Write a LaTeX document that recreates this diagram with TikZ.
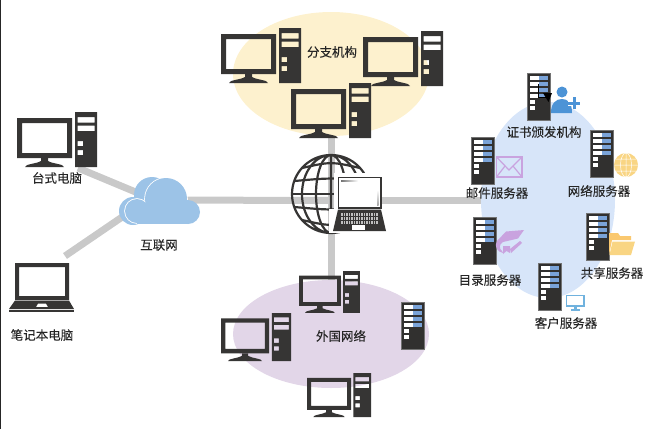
\documentclass[tikz,border=0pt]{standalone}
\usepackage{fontspec}
\setmainfont{Noto Sans CJK SC}[FakeBold=0.15]
\definecolor{darkbox}{HTML}{363534}
\definecolor{wirecol}{HTML}{C9C9C9}
\definecolor{cloudcol}{HTML}{9CC3E7}
\definecolor{slotcol}{HTML}{7AA3D8}
\definecolor{branchcol}{HTML}{FDF1CE}
\definecolor{foreigncol}{HTML}{E2D6E8}
\definecolor{servercol}{HTML}{D7E5F9}
\definecolor{usercol}{HTML}{4C93D6}
\definecolor{mailcol}{HTML}{C9A3DF}
\definecolor{foldcol}{HTML}{F9D583}
\definecolor{screencol}{HTML}{70B2DE}
\tikzset{
  wire/.style={wirecol,line width=7pt},
  lbl/.style={font=\fontsize{12.5}{14}\selectfont,inner sep=0pt,text=black!85},
  pics/desktop/.style={code={
    \fill[darkbox,even odd rule] (0,6) rectangle (55,46) (5,11) rectangle (50,41);
    \fill[darkbox] (24,46) -- (31,46) -- (31,49) .. controls (36,52) and (47,52) .. (47,55) -- (8,55) .. controls (8,52) and (19,52) .. (24,49) -- cycle;
    \fill[darkbox,even odd rule] (58,0) rectangle (80,55)
      (60.5,5) rectangle (77.5,10.5) (60.5,13.5) rectangle (77.5,19)
      (60.5,29) rectangle (66,34) (60.5,38) rectangle (66,43);
  }},
  pics/rackbox/.style={code={
    \fill[darkbox!90!black,draw=black!55,line width=.6pt] (0,0) rectangle (23.5,47);
    \foreach \r in {5,11,17,23} {
      \fill[white] (3,\r-1.6) rectangle (12,\r+1.6);
      \fill[slotcol] (12,\r-1.6) rectangle (20.5,\r+1.6);
    }
    \foreach \r in {29,35} {
      \fill[white] (3,\r-1.6) rectangle (8,\r+1.6);
    }
  }},
}
\begin{document}
\begin{tikzpicture}[x=1pt,y=-1pt]
\useasboundingbox (0,0) rectangle (650,429);
\draw [black!85,line width=1.5pt] (0.5,0) -- (0.5,429);
% wiring points
\coordinate (pcend) at (78,168);
\coordinate (noteend) at (65,256);
\coordinate (cloud) at (160,200);
\coordinate (cloudin) at (150,198);
\coordinate (hub) at (331,200.5);
\coordinate (branch) at (331,74);
\coordinate (foreign) at (331,334);
\coordinate (servers) at (548,200.5);
\draw [wire] (pcend) -- (cloudin);
\draw [wire] (noteend) -- (cloudin);
\draw [wire] (cloud) -- (hub);
\draw [wire] (hub) -- (servers);
\draw [wire] (hub) -- (branch);
\draw [wire] (hub) -- (foreign);
% network areas
\fill [branchcol] (branch) ellipse (98 and 62);
\fill [foreigncol] (foreign) ellipse (98 and 54);
\fill [servercol] (548,200) ellipse (67 and 98);
% cloud
\fill [cloudcol] (133,211) circle (14);
\fill [cloudcol] (152,195) circle (18);
\fill [cloudcol] (133,210) rectangle (160,224);
\draw [white,line width=1.6pt] (166,199) circle (21);
\draw [white,line width=1.6pt] (137,211) circle (12);
\fill [cloudcol] (166,199) circle (21);
\fill [cloudcol] (137,211) circle (12);
\fill [cloudcol] (188,212) circle (12);
\fill [cloudcol] (137,208) rectangle (188,223.5);
% globe
\draw [darkbox,line width=2.2pt] (331,194) circle (39) (331,194) ellipse (15 and 39) (331,194) ellipse (29 and 39) (331,155) -- (331,233);
\foreach \d in {-26,-13,0,13,26} {
  \pgfmathsetmacro{\w}{sqrt(39*39-\d*\d)}
  \draw [darkbox,line width=2.2pt] (331-\w,194+\d) .. controls (331,194+\d*1.25) .. (331+\w,194+\d);
}
% laptop over the globe
\fill [white] (334,173) rectangle (386,209);
\fill [white] (329,209) rectangle (390,233);
\fill [wirecol] (382,197) rectangle (390,204);
\draw [darkbox,fill=white,line width=1.1pt] (338.5,177.5) rectangle (381,208);
\shade [left color=black!55,right color=white] (341,180) rectangle (358,181.5);
\shade [top color=white,bottom color=black!35] (377,190) rectangle (378.5,205);
\fill [darkbox] (338,209.5) -- (381,209.5) -- (386,231) -- (333,231) -- cycle;
\fill [black!25] (341,213) rectangle (378,224);
\foreach \k in {343,345.5,...,378} {
  \draw [darkbox,line width=.5pt] (\k,213) -- (\k,224);
}
\draw [darkbox,line width=.5pt] (341,216.5) -- (378,216.5) (341,220) -- (378,220);
\fill [white] (352,225) rectangle (365,230);
% notebook
\fill [darkbox,even odd rule] (15,263) rectangle (69,300) (19,267) rectangle (65,296);
\fill [darkbox,even odd rule] (15,300.5) -- (69,300.5) -- (74,309) -- (9,309) -- cycle (36,307) -- (48,307) -- (46,303.5) -- (38,303.5) -- cycle;
\fill [darkbox] (9,310) rectangle (74,312);
% desktops
\pic (pcbox) at (17,112) {desktop};
\pic (brancha) at (221,28) {desktop};
\pic (branchb) at (363,31) {desktop};
\pic (branchc) at (291,83) {desktop};
\pic [scale=.76] (foreigna) at (299,271) {desktop};
\pic [scale=.875] (foreignb) at (221,313) {desktop};
\pic [scale=.8] (foreignc) at (307,373) {desktop};
% servers
\pic (foreignrack) at (401,302) {rackbox};
\pic (carack) at (527,73) {rackbox};
\pic (mailrack) at (471,137) {rackbox};
\pic (webrack) at (590,130) {rackbox};
\pic (dirrack) at (473,217) {rackbox};
\pic (sharerack) at (586,213) {rackbox};
\pic (clientrack) at (538,263) {rackbox};
% pointer on the ca server
\draw [black,line width=1pt] (538,84) -- (538,97) -- (550,97);
\fill [black] (543,93) -- (552,93) -- (548.5,102) -- cycle;
% user with plus
\fill [usercol] (562,92) circle (5.5);
\fill [usercol] (551,113) .. controls (551,103) and (556,99) .. (562,99) .. controls (568,99) and (572,103) .. (572,113) -- cycle;
\draw [white,line width=5pt] (568,103) -- (580,103) (574,97) -- (574,109);
\draw [usercol,line width=3pt] (568,103) -- (580,103) (574,97) -- (574,109);
% mail
\draw [mailcol,line width=1.2pt] (496.5,157) rectangle (522,177);
\draw [mailcol,line width=1.2pt] (496.5,157) -- (509,170) -- (522,157) (496.5,177) -- (505,166) (522,177) -- (513,166);
% web globe
\fill [foldcol] (626,165) circle (12);
\draw [white,line width=.5pt] (626,165) ellipse (5.5 and 12) (626,153) -- (626,177) (614,165) -- (638,165) (616,159) -- (636,159) (616,171) -- (636,171);
% directory book
\fill [mailcol] (506,231.5) -- (524,230) -- (518,238.5) -- (503,242) .. controls (499,244) and (499,249) .. (502,251) -- (503,253) .. controls (497,252) and (494,246) .. (497,241) -- cycle;
\fill [mailcol] (503,246) -- (510,246) -- (510,253) -- (506.5,251) -- (503,254) -- cycle;
\fill [mailcol] (510,249) -- (520,241) -- (522,243) -- (511,253) -- cycle;
% folder
\fill [foldcol!85!orange] (609,255) -- (609,233) -- (618,233) -- (620,236) -- (631,236) -- (631,240) -- (612,240) -- cycle;
\fill [foldcol] (612.5,241.5) -- (635,241.5) -- (631,255) -- (609.5,255) -- cycle;
% client screen
\draw [screencol,line width=1.2pt] (566.5,295.5) rectangle (584,306);
\fill [screencol] (574,306) rectangle (576.5,309);
\fill [screencol] (571,309) rectangle (580,310.5);
% labels
\node [lbl] (pclabel) at (57,178) {台式电脑};
\node [lbl] (notelabel) at (42,335) {笔记本电脑};
\node [lbl] (netlabel) at (159,245) {互联网};
\node [lbl] (branchlabel) at (332,52) {分支机构};
\node [lbl] (foreignlabel) at (341,336) {外国网络};
\node [lbl] (calabel) at (544,132) {证书颁发机构};
\node [lbl] (maillabel) at (497,193) {邮件服务器};
\node [lbl] (weblabel) at (599,191) {网络服务器};
\node [lbl] (dirlabel) at (490,280) {目录服务器};
\node [lbl] (sharelabel) at (612,273) {共享服务器};
\node [lbl] (clientlabel) at (566,323) {客户服务器};
\end{tikzpicture}
\end{document}
